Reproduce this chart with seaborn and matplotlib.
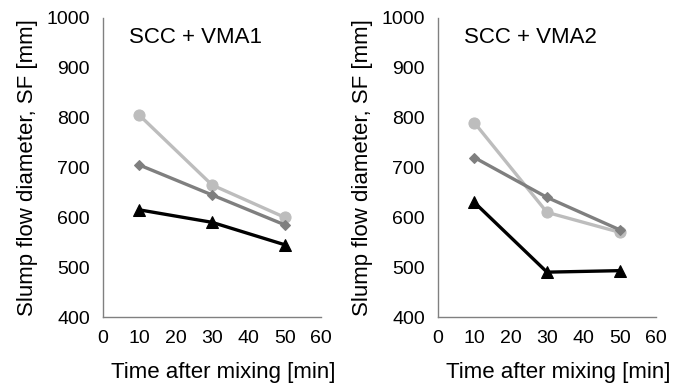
import matplotlib
matplotlib.use("Agg")
import matplotlib.pyplot as plt
import seaborn as sns
import pandas as pd

sns.set_theme(style="white")
plt.rcParams['font.family'] = ['Liberation Sans', 'DejaVu Sans']
plt.rcParams['text.color'] = 'black'
plt.rcParams['axes.labelcolor'] = 'black'

time = [10, 30, 50]
series = ["circle", "diamond", "triangle"]
vma1_circle = [805, 665, 600]
vma1_diamond = [705, 645, 585]
vma1_triangle = [615, 590, 545]
vma2_circle = [790, 610, 570]
vma2_diamond = [720, 640, 575]
vma2_triangle = [630, 490, 493]
titles = ["SCC + VMA1", "SCC + VMA2"]

colors = {"circle": "#bdbdbd", "diamond": "#7f7f7f", "triangle": "#000000"}
markers = {"circle": "o", "diamond": "D", "triangle": "^"}
msizes = {"circle": 8, "diamond": 5, "triangle": 8}

def frame(c, d, t):
    rows = []
    for name, vals in zip(series, [c, d, t]):
        for x, y in zip(time, vals):
            rows.append({"time": x, "sf": y, "series": name})
    return pd.DataFrame(rows)

data = [frame(vma1_circle, vma1_diamond, vma1_triangle),
        frame(vma2_circle, vma2_diamond, vma2_triangle)]

fig = plt.figure(figsize=(6.8, 3.86), dpi=100)
lefts = [103 / 680, 438 / 680]
for i, (df, title) in enumerate(zip(data, titles)):
    ax = fig.add_axes([lefts[i], 1 - 317 / 386, 218 / 680, 299 / 386])
    for name in series:
        sub = df[df.series == name]
        sns.lineplot(data=sub, x="time", y="sf", ax=ax, color=colors[name],
                     marker=markers[name], markersize=msizes[name],
                     markeredgecolor=colors[name], linewidth=2.4, legend=False)
    ax.set_xlim(0, 60)
    ax.set_ylim(400, 1000)
    ax.set_xticks(range(0, 61, 10))
    ax.set_yticks(range(400, 1001, 100))
    for s in ["top", "right"]:
        ax.spines[s].set_visible(False)
    for s in ["left", "bottom"]:
        ax.spines[s].set_color("#808080")
        ax.spines[s].set_linewidth(1.0)
    ax.tick_params(axis="both", which="both", direction="out", length=4.3,
                   width=1, color="#808080", labelsize=14, labelcolor="black",
                   pad=5)
    ax.set_xlabel("Time after mixing [min]", fontsize=16, color="black")
    ax.xaxis.set_label_coords(0.55, -0.152)
    ax.set_ylabel("Slump flow diameter, SF [mm]", fontsize=16, color="black")
    ax.yaxis.set_label_coords(-0.296, 0.5)
    ax.text(0.119, 0.916, title, transform=ax.transAxes, fontsize=16,
            va="baseline", ha="left", color="black")

fig.savefig("out.png", dpi=100)
